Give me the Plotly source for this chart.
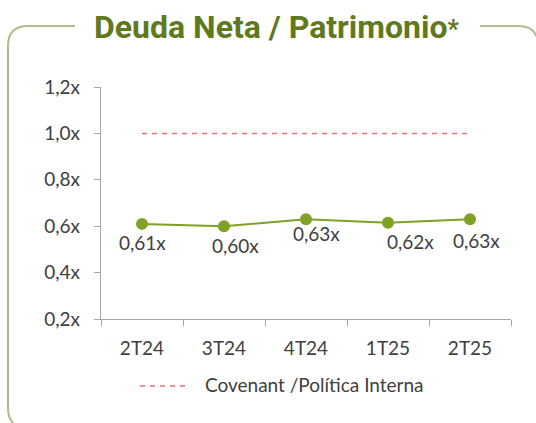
import plotly.graph_objects as go

categories = ["2T24", "3T24", "4T24", "1T25", "2T25"]
ratio_values = [0.61, 0.60, 0.63, 0.615, 0.63]
ratio_labels = ["0,61x", "0,60x", "0,63x", "0,62x", "0,63x"]
covenant_values = [1.0, 1.0, 1.0, 1.0, 1.0]
y_tick_values = [0.2, 0.4, 0.6, 0.8, 1.0, 1.2]
y_tick_labels = ["0,2x", "0,4x", "0,6x", "0,8x", "1,0x", "1,2x"]
title_text = "Deuda Neta / Patrimonio"
legend_text = "Covenant /Política Interna"

W, H = 536, 423
L, R, T, B = 101, 25, 87, 104
PW, PH = W - L - R, H - T - B

def px(x):
    return (x - L) / PW

def py(y):
    return (H - B - y) / PH

TEXT = "#404040"
GREEN = "#7FA125"
RED = "#E2737D"
FRAME = "#AEBF8E"
FONT = "Lato"
FS = 19

fig = go.Figure()
fig.add_trace(go.Scatter(
    x=categories, y=covenant_values, mode="lines",
    line=dict(color=RED, width=1.5, dash="5px,5px"),
    name=legend_text, showlegend=False, hoverinfo="skip",
))
fig.add_trace(go.Scatter(
    x=categories, y=ratio_values, mode="lines+markers",
    line=dict(color=GREEN, width=2), marker=dict(color=GREEN, size=12),
    showlegend=False, hoverinfo="skip",
))

label_dx = [0, 11, 10, 22, 6]
label_dy = [-19, -19, -14, -19, -21]
for c, v, t, dx, dy in zip(categories, ratio_values, ratio_labels, label_dx, label_dy):
    fig.add_annotation(x=c, y=v, text=t, showarrow=False, xshift=dx, yshift=dy,
                       font=dict(family=FONT, size=FS, color=TEXT))

# legend (drawn manually to match the sample length)
fig.add_shape(type="line", xref="paper", yref="paper", x0=px(140), x1=px(190), y0=py(386), y1=py(386),
              line=dict(color=RED, width=1.5, dash="5px,5px"))
fig.add_annotation(x=px(203), y=py(384), xref="paper", yref="paper", text=legend_text,
                   showarrow=False, xanchor="left", yanchor="middle",
                   font=dict(family=FONT, size=FS, color=TEXT))

frame_path = (
    f"M {px(75)},{py(26)} L {px(28)},{py(26)} Q {px(8)},{py(26)} {px(8)},{py(46)} "
    f"L {px(8)},{py(408)} Q {px(8)},{py(428)} {px(28)},{py(428)}"
)
frame_path2 = (
    f"M {px(480)},{py(26)} L {px(518)},{py(26)} Q {px(538)},{py(26)} {px(538)},{py(46)} "
    f"L {px(538)},{py(430)}"
)
for p in (frame_path, frame_path2):
    fig.add_shape(type="path", path=p, xref="paper", yref="paper",
                  line=dict(color=FRAME, width=2))

fig.add_annotation(x=px(277), y=py(27), xref="paper", yref="paper",
                   text=f"<b>{title_text}<span style='font-size:25px'>*</span></b>",
                   showarrow=False, font=dict(family="Roboto", size=32, color="#5F7A1E"),
                   xanchor="center", yanchor="middle")

fig.update_layout(
    width=W, height=H, autosize=False,
    margin=dict(l=L, r=R, t=T, b=B),
    paper_bgcolor="white", plot_bgcolor="white",
    font=dict(family=FONT, color=TEXT, size=FS),
    showlegend=False,
    xaxis=dict(type="category", showline=True, linecolor="#A6A6A6", linewidth=1.3,
               ticks="outside", ticklen=6, tickcolor="#A6A6A6", tickson="boundaries",
               showgrid=False, zeroline=False, ticklabelstandoff=12,
               tickfont=dict(family=FONT, size=FS, color=TEXT), range=[-0.5, 4.5]),
    yaxis=dict(range=[0.2, 1.2], tickvals=y_tick_values, ticktext=y_tick_labels,
               showline=True, linecolor="#A6A6A6", linewidth=1.3, ticks="outside", ticklen=6,
               tickcolor="#A6A6A6", showgrid=False, zeroline=False, ticklabelstandoff=10,
               tickfont=dict(family=FONT, size=FS, color=TEXT)),
)

fig.write_html("out.html", config={"displayModeBar": False},
               post_script="document.body.style.margin='0';")
